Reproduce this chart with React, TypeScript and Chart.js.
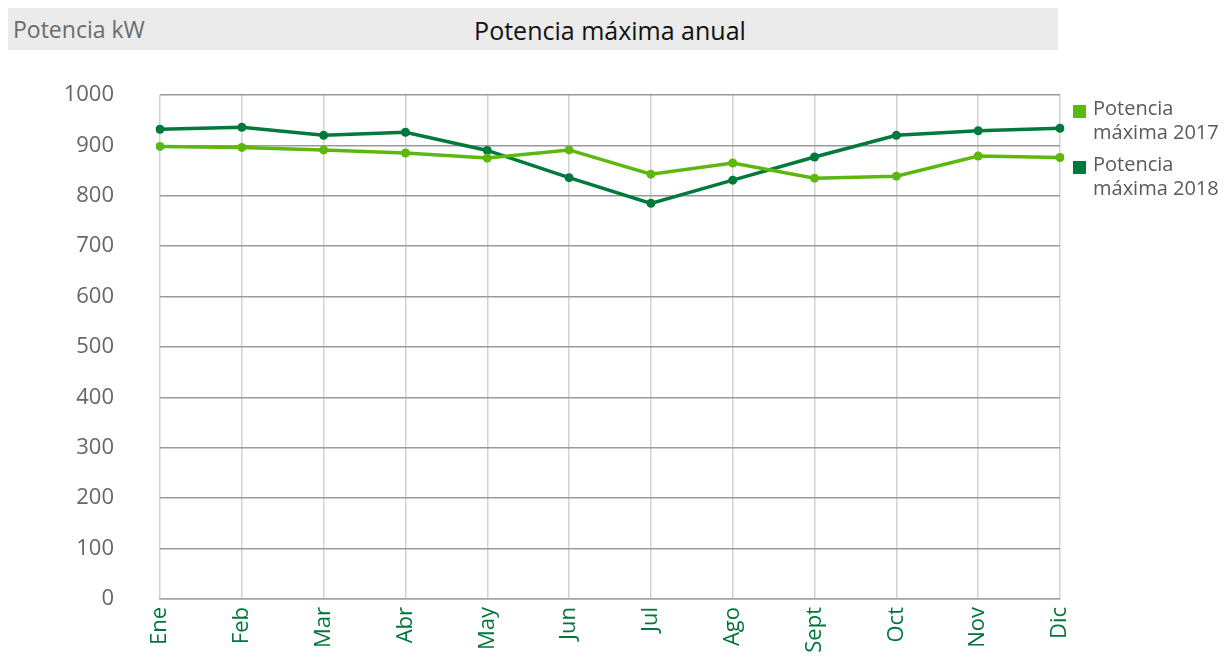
import React, { useEffect, useRef } from "react";
import { Chart, registerables } from "chart.js";

Chart.register(...registerables);

const months = ["Ene", "Feb", "Mar", "Abr", "May", "Jun", "Jul", "Ago", "Sept", "Oct", "Nov", "Dic"];
const potencia2017 = [898, 896, 891, 885, 875, 891, 843, 865, 835, 839, 879, 876];
const potencia2018 = [932, 936, 920, 926, 890, 836, 785, 831, 877, 920, 929, 934];
const seriesNames = ["Potencia máxima 2017", "Potencia máxima 2018"];
const seriesColors = ["#5db80e", "#00793d"];
const chartTitle = "Potencia máxima anual";
const unitLabel = "Potencia kW";

const FONT = "'Open Sans', 'Noto Sans', sans-serif";

export default function App() {
  const ref = useRef<HTMLCanvasElement | null>(null);

  useEffect(() => {
    document.body.style.overflow = "hidden";
    const canvas = ref.current!;
    const chart = new Chart(canvas, {
      type: "line",
      data: {
        labels: months,
        datasets: [
          {
            label: seriesNames[0],
            data: potencia2017,
            borderColor: seriesColors[0],
            backgroundColor: seriesColors[0],
            borderWidth: 3.5,
            pointRadius: 4.5,
            pointHoverRadius: 4.5,
            pointBackgroundColor: seriesColors[0],
            pointBorderWidth: 0,
            tension: 0,
          },
          {
            label: seriesNames[1],
            data: potencia2018,
            borderColor: seriesColors[1],
            backgroundColor: seriesColors[1],
            borderWidth: 3.5,
            pointRadius: 4.5,
            pointHoverRadius: 4.5,
            pointBackgroundColor: seriesColors[1],
            pointBorderWidth: 0,
            tension: 0,
          },
        ],
      },
      options: {
        responsive: false,
        animation: false,
        devicePixelRatio: 1,
        layout: { padding: { left: 0, right: 163, top: 87, bottom: 0 } },
        plugins: {
          legend: { display: false },
          tooltip: { enabled: false },
          title: { display: false },
        },
        scales: {
          x: {
            type: "category",
            offset: false,
            grid: { color: "#d2d2d2", lineWidth: 1.5, drawTicks: false },
            border: { color: "#a8a8a8", width: 1.5 },
            ticks: {
              color: "#00773a",
              font: { family: FONT, size: 22 },
              minRotation: 90,
              maxRotation: 90,
              padding: 8,
              autoSkip: false,
            },
            afterFit: (s: any) => {
              s.height = 67;
            },
          },
          y: {
            min: 0,
            max: 1000,
            grid: { color: "#9a9a9a", lineWidth: 1.5, drawTicks: false },
            border: { display: false },
            ticks: {
              stepSize: 100,
              color: "#666666",
              font: { family: FONT, size: 22 },
              padding: 46,
              callback: (v: any) => String(v),
            },
            afterFit: (s: any) => {
              s.width = 152;
            },
          },
        },
      },
    });
    return () => chart.destroy();
  }, []);

  return (
    <div style={{ position: "relative", width: 1215, height: 650, fontFamily: FONT }}>
      <div
        style={{
          position: "absolute",
          left: 0,
          top: 0,
          width: 1050,
          height: 42,
          background: "#ebebeb",
        }}
      />
      <div
        style={{
          position: "absolute",
          left: 5,
          top: 0,
          height: 42,
          lineHeight: "42px",
          fontSize: 23,
          color: "#6b6b6b",
        }}
      >
        {unitLabel}
      </div>
      <div
        style={{
          position: "absolute",
          left: 152,
          width: 900,
          top: 0,
          height: 42,
          lineHeight: "44px",
          fontSize: 25,
          color: "#111",
          textAlign: "center",
        }}
      >
        {chartTitle}
      </div>
      <canvas ref={ref} width={1215} height={658} style={{ position: "absolute", left: 0, top: 0 }} />
      <div style={{ position: "absolute", left: 1065, top: 88, width: 160 }}>
        {seriesNames.map((n, i) => (
          <div key={n} style={{ display: "flex", alignItems: "flex-start", marginBottom: 8 }}>
            <div
              style={{
                width: 13,
                height: 13,
                background: seriesColors[i],
                marginTop: 9,
                marginRight: 7,
                flex: "none",
              }}
            />
            <div style={{ fontSize: 20, lineHeight: "24px", color: "#5a5a5a" }}>
              Potencia
              <br />
              {n.replace("Potencia ", "")}
            </div>
          </div>
        ))}
      </div>
    </div>
  );
}
